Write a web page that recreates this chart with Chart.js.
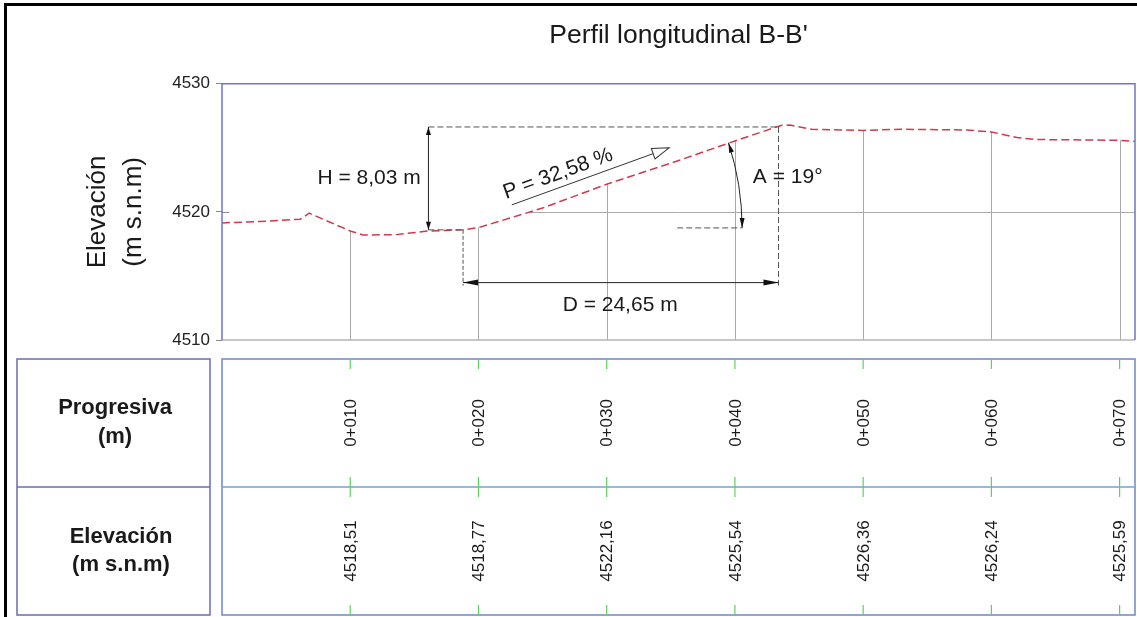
<!DOCTYPE html>
<html>
<head>
<meta charset="utf-8">
<script src="https://cdn.jsdelivr.net/npm/chart.js@4.4.1/dist/chart.umd.min.js"></script>
<style>
  body { margin: 0; background: #fff; }
  canvas { display: block; }
</style>
</head>
<body>
<canvas id="perfil" width="1137" height="617"></canvas>
<script>
// perfil del terreno (progresiva en m, cota en m s.n.m)
const estaciones = [0, 3, 6.1, 6.8, 10, 11, 13.5, 16, 18.8, 20, 25, 30, 35, 40, 43.6, 44.3, 46, 50, 53, 58, 60, 62, 63.5, 70, 71.2];
const cotas = [4519.14, 4519.25, 4519.43, 4519.9, 4518.51, 4518.2, 4518.22, 4518.5, 4518.6, 4518.77, 4520.3, 4522.16, 4523.8, 4525.54, 4526.75, 4526.78, 4526.45, 4526.36, 4526.45, 4526.4, 4526.24, 4525.8, 4525.65, 4525.59, 4525.5];

// guitarra inferior
const progresivas = [10, 20, 30, 40, 50, 60, 70];
const etiquetasProgresiva = ['0+010', '0+020', '0+030', '0+040', '0+050', '0+060', '0+070'];
const etiquetasCota = ['4518,51', '4518,77', '4522,16', '4525,54', '4526,36', '4526,24', '4525,59'];
const ticksElevacion = [4510, 4520, 4530];

// cotas del talud (en unidades del grafico)
const pieTalud = [18.8, 4518.6];
const crestaTalud = [43.4, 4526.63];
const ejeH = 16.1;
const ejeD = 4514.48;
const flechaP = [[22.6, 4520.55], [34.87, 4525.0]];
const verticeA = [19.35, 4518.75];
const arcoA = [[40.56, 4518.75], [39.47, 4525.39]];
const tramoA = [35.5, 40.56];
const textos = [
  { t: 'H = 8,03 m', x: 15.5, y: 4522.66, align: 'right' },
  { t: 'D = 24,65 m', x: 31.05, y: 4512.73, align: 'center' },
  { t: 'A = 19°', x: 41.4, y: 4522.73, align: 'left' }
];
const textoP = { t: 'P = 32,58 %', x: 26.2, y: 4522.97 };

Chart.defaults.font.family = "'Liberation Sans', Arial, sans-serif";

function punta(ctx, x, y, ang, largo, ancho, relleno) {
  ctx.save();
  ctx.translate(x, y);
  ctx.rotate(ang);
  ctx.beginPath();
  ctx.moveTo(0, 0);
  ctx.lineTo(-largo, -ancho);
  ctx.lineTo(-largo, ancho);
  ctx.closePath();
  if (relleno) { ctx.fillStyle = '#111'; ctx.fill(); }
  else { ctx.fillStyle = '#fff'; ctx.fill(); ctx.stroke(); }
  ctx.restore();
}

function linea(ctx, x1, y1, x2, y2, dash) {
  ctx.save();
  ctx.setLineDash(dash || []);
  ctx.beginPath();
  ctx.moveTo(x1, y1);
  ctx.lineTo(x2, y2);
  ctx.stroke();
  ctx.restore();
}

// grilla solo bajo el terreno
const grilla = {
  id: 'grilla',
  beforeDatasetsDraw(chart) {
    const { ctx, chartArea: a, scales: { x, y } } = chart;
    const pts = chart.getDatasetMeta(0).data;
    ctx.save();
    ctx.beginPath();
    ctx.moveTo(pts[0].x, a.bottom);
    pts.forEach(p => ctx.lineTo(p.x, p.y));
    ctx.lineTo(pts[pts.length - 1].x, a.bottom);
    ctx.closePath();
    ctx.clip();
    ctx.strokeStyle = '#a9a9a9';
    ctx.lineWidth = 1;
    ctx.beginPath();
    progresivas.forEach(v => {
      const px = Math.round(x.getPixelForValue(v)) + 0.5;
      ctx.moveTo(px, a.top);
      ctx.lineTo(px, a.bottom);
    });
    ticksElevacion.slice(1, -1).forEach(v => {
      const py = Math.round(y.getPixelForValue(v)) + 0.5;
      ctx.moveTo(a.left, py);
      ctx.lineTo(a.right, py);
    });
    ctx.stroke();
    ctx.restore();

    // marca interior de la cota intermedia
    ctx.save();
    ctx.strokeStyle = '#888';
    ctx.lineWidth = 1;
    ticksElevacion.slice(1, -1).forEach(v => {
      const py = Math.round(y.getPixelForValue(v)) + 0.5;
      linea(ctx, a.left, py, a.left + 7, py);
    });
    ctx.restore();
  }
};

const anotaciones = {
  id: 'anotaciones',
  afterDatasetsDraw(chart) {
    const { ctx, chartArea: a, scales: { x, y } } = chart;
    const X = v => x.getPixelForValue(v);
    const Y = v => y.getPixelForValue(v);

    // marco del perfil
    ctx.save();
    ctx.lineWidth = 1.5;
    ctx.strokeStyle = '#b5b5b5';
    linea(ctx, a.left, a.bottom, a.right, a.bottom);
    ctx.strokeStyle = '#7373c4';
    ctx.beginPath();
    ctx.moveTo(a.left, a.bottom);
    ctx.lineTo(a.left, a.top);
    ctx.lineTo(a.right, a.top);
    ctx.lineTo(a.right, a.bottom);
    ctx.stroke();
    ctx.restore();

    ctx.save();
    ctx.lineWidth = 1;
    const guion = [6, 3];
    const xp = X(pieTalud[0]), yp = Y(pieTalud[1]);
    const xc = X(crestaTalud[0]), yc = Y(crestaTalud[1]);
    const xh = X(ejeH), yd = Y(ejeD);

    // H
    ctx.strokeStyle = '#555';
    linea(ctx, xh, yc, xc, yc, guion);
    linea(ctx, xh, yp, xp, yp, guion);
    linea(ctx, xp, yp, xp, yd + 3, [4, 2]);
    linea(ctx, xc, yc, xc, yd + 3, guion);
    ctx.strokeStyle = '#222';
    linea(ctx, xh, yc, xh, yp);
    punta(ctx, xh, yc, -Math.PI / 2, 8, 2.5, true);
    punta(ctx, xh, yp, Math.PI / 2, 8, 2.5, true);

    // D
    linea(ctx, xp, yd, xc, yd);
    punta(ctx, xp, yd, Math.PI, 15, 3, true);
    punta(ctx, xc, yd, 0, 15, 3, true);

    // P
    const p1x = X(flechaP[0][0]), p1y = Y(flechaP[0][1]);
    const p2x = X(flechaP[1][0]), p2y = Y(flechaP[1][1]);
    const angP = Math.atan2(p2y - p1y, p2x - p1x);
    ctx.strokeStyle = '#333';
    linea(ctx, p1x, p1y, p2x - 16 * Math.cos(angP), p2y - 16 * Math.sin(angP));
    punta(ctx, p2x, p2y, angP, 17, 5.5, false);

    // A
    const cx = X(verticeA[0]), cy = Y(verticeA[1]);
    const b0x = X(arcoA[0][0]), b0y = Y(arcoA[0][1]);
    const b1x = X(arcoA[1][0]), b1y = Y(arcoA[1][1]);
    const r = Math.hypot(b0x - cx, b0y - cy);
    const t0 = Math.atan2(b0y - cy, b0x - cx);
    const t1 = Math.atan2(b1y - cy, b1x - cx);
    ctx.strokeStyle = '#222';
    ctx.beginPath();
    ctx.arc(cx, cy, r, t0, t1, true);
    ctx.stroke();
    punta(ctx, cx + r * Math.cos(t0), cy + r * Math.sin(t0), t0 + Math.PI / 2, 10, 2.5, true);
    punta(ctx, cx + r * Math.cos(t1), cy + r * Math.sin(t1), t1 - Math.PI / 2, 10, 2.5, true);
    ctx.strokeStyle = '#555';
    linea(ctx, X(tramoA[0]), cy, X(tramoA[1]), cy, guion);

    // textos
    ctx.fillStyle = '#1a1a1a';
    ctx.font = "21px 'Liberation Sans', Arial, sans-serif";
    ctx.textBaseline = 'middle';
    textos.forEach(t => {
      ctx.textAlign = t.align;
      ctx.fillText(t.t, X(t.x), Y(t.y));
    });
    ctx.save();
    ctx.translate(X(textoP.x), Y(textoP.y));
    ctx.rotate(angP);
    ctx.textAlign = 'center';
    ctx.fillText(textoP.t, 0, 0);
    ctx.restore();
    ctx.restore();
  }
};

const guitarra = {
  id: 'guitarra',
  afterDraw(chart) {
    const { ctx, chartArea: a, scales: { x } } = chart;
    const top = a.bottom + 19, mid = a.bottom + 147, bot = a.bottom + 275;
    ctx.save();
    ctx.lineWidth = 1.5;
    ctx.strokeStyle = '#6b6bb5';
    ctx.strokeRect(17, top, 193, bot - top);
    linea(ctx, 17, mid, 210, mid);
    ctx.strokeStyle = '#6f86c2';
    ctx.strokeRect(a.left, top, a.right - a.left, bot - top);
    ctx.strokeStyle = '#78a0cc';
    linea(ctx, a.left, mid, a.right, mid);

    ctx.strokeStyle = '#5fd05f';
    ctx.lineWidth = 1.2;
    progresivas.forEach(v => {
      const px = x.getPixelForValue(v);
      linea(ctx, px, top, px, top + 10);
      linea(ctx, px, mid - 10, px, mid + 10);
      linea(ctx, px, bot - 10, px, bot);
    });

    ctx.fillStyle = '#1a1a1a';
    ctx.textAlign = 'center';
    ctx.textBaseline = 'middle';
    ctx.font = "bold 22px 'Liberation Sans', Arial, sans-serif";
    const c1 = (top + mid) / 2, c2 = (mid + bot) / 2;
    ctx.fillText('Progresiva', 115, c1 - 15);
    ctx.fillText('(m)', 115, c1 + 14);
    ctx.fillText('Elevación', 121, c2 - 14);
    ctx.fillText('(m s.n.m)', 121, c2 + 14);

    ctx.font = "17px 'Liberation Sans', Arial, sans-serif";
    progresivas.forEach((v, i) => {
      const px = x.getPixelForValue(v) + 1;
      ctx.save();
      ctx.translate(px, c1);
      ctx.rotate(-Math.PI / 2);
      ctx.fillText(etiquetasProgresiva[i], 0, 0);
      ctx.restore();
      ctx.save();
      ctx.translate(px, c2);
      ctx.rotate(-Math.PI / 2);
      ctx.fillText(etiquetasCota[i], 0, 0);
      ctx.restore();
    });

    // borde negro de la lamina
    ctx.strokeStyle = '#000';
    ctx.lineWidth = 3;
    ctx.beginPath();
    ctx.moveTo(5.5, chart.height);
    ctx.lineTo(5.5, 4.5);
    ctx.lineTo(chart.width, 4.5);
    ctx.stroke();
    ctx.restore();
  }
};

const ctx = document.getElementById('perfil').getContext('2d');
new Chart(ctx, {
  type: 'line',
  data: {
    datasets: [{
      data: estaciones.map((e, i) => ({ x: e, y: cotas[i] })),
      borderColor: '#cf3a4c',
      borderWidth: 1.5,
      borderDash: [8, 4],
      pointRadius: 0,
      tension: 0
    }]
  },
  options: {
    responsive: false,
    animation: false,
    layout: { padding: { left: 0, right: 2, top: 12, bottom: 277 } },
    plugins: {
      legend: { display: false },
      tooltip: { enabled: false },
      title: {
        display: true,
        text: "Perfil longitudinal B-B'",
        fullSize: false,
        color: '#1a1a1a',
        font: { size: 26.5, weight: 'normal' },
        padding: { top: 8, bottom: 32 }
      }
    },
    scales: {
      x: { type: 'linear', min: 0, max: 71.2, display: false },
      y: {
        min: 4510,
        max: 4530,
        afterBuildTicks: s => { s.ticks = ticksElevacion.map(v => ({ value: v })); },
        afterFit: s => { s.width = 222; },
        ticks: { color: '#222', font: { size: 17 }, padding: 6, callback: v => String(v) },
        grid: { drawOnChartArea: false, tickLength: 6, color: '#888' },
        border: { display: false },
        title: {
          display: true,
          text: ['Elevación', '(m s.n.m)'],
          color: '#1a1a1a',
          font: { size: 26, lineHeight: 1.38 },
          padding: { top: 80, bottom: 0 }
        }
      }
    }
  },
  plugins: [grilla, anotaciones, guitarra]
});
</script>
</body>
</html>
